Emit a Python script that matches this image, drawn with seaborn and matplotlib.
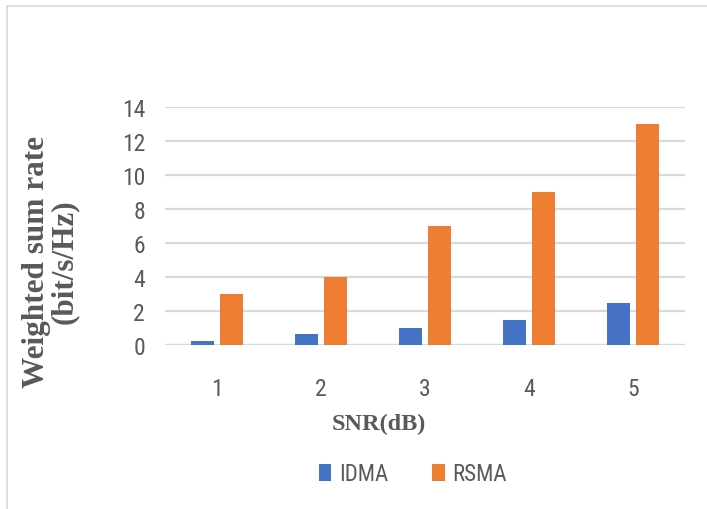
import matplotlib
matplotlib.use("Agg")
import matplotlib.pyplot as plt
from matplotlib import font_manager
from matplotlib.lines import Line2D
import seaborn as sns
import pandas as pd

# Weighted sum rate versus SNR for the two access schemes
snr_db = ["1", "2", "3", "4", "5"]
idma_rate = [0.25, 0.65, 1.0, 1.5, 2.5]
rsma_rate = [3, 4, 7, 9, 13]
schemes = ["IDMA", "RSMA"]
y_ticks = [0, 2, 4, 6, 8, 10, 12, 14]

df = pd.DataFrame({
    "SNR": snr_db * 2,
    "rate": idma_rate + rsma_rate,
    "scheme": [schemes[0]] * len(snr_db) + [schemes[1]] * len(snr_db),
})

# prefer a condensed sans face when one is installed
installed = {f.name for f in font_manager.fontManager.ttflist}
narrow = None
for cand in ["Liberation Sans Narrow", "Roboto Condensed", "Open Sans Condensed",
             "Noto Sans Condensed", "DejaVu Sans Condensed"]:
    if cand in installed:
        narrow = cand
        break

sns.set_theme(style="white")
if narrow is not None:
    plt.rcParams["font.family"] = [narrow, "Liberation Sans", "DejaVu Sans"]
    tick_size, legend_size = 17, 16.5
else:
    plt.rcParams["font.family"] = ["Liberation Sans", "DejaVu Sans"]
    tick_size, legend_size = 15, 15

TEXT = "#595959"
GRID = "#D9D9D9"
colors = ["#4472C4", "#ED7D31"]

fig = plt.figure(figsize=(7.07, 5.10), dpi=100)
fig.patch.set_facecolor("white")
ax = fig.add_axes([165 / 707, 1 - 346 / 510, 520 / 707, (346 - 108.3) / 510])

sns.barplot(data=df, x="SNR", y="rate", hue="scheme", hue_order=schemes,
            palette=colors, saturation=1, width=0.56, gap=0.2, linewidth=0,
            ax=ax, legend=False)

ax.set_ylim(0, 14)
ax.set_yticks(y_ticks)
ax.set_xlim(-0.5, len(snr_db) - 0.5)
ax.yaxis.grid(True, color=GRID, linewidth=1.6)
ax.set_axisbelow(True)
for s in ax.spines.values():
    s.set_visible(False)
ax.axhline(0, color=GRID, linewidth=1.6, zorder=0.5)

ax.tick_params(axis="y", length=0, pad=14.4, labelsize=tick_size, labelcolor=TEXT)
ax.tick_params(axis="x", length=0, pad=23, labelsize=tick_size, labelcolor=TEXT)

ax.set_xlabel("SNR(dB)", fontfamily="Liberation Serif", fontweight="bold",
              fontsize=17.5, color=TEXT)
ax.xaxis.label.set_va("center")
ax.xaxis.set_label_coords((379 - 165) / 520, (346 - 424) / 237.7)

ax.set_ylabel("Weighted sum rate\n(bit/s/Hz)", fontfamily="Liberation Serif",
              fontweight="bold", fontsize=22.5, color=TEXT, linespacing=0.95,
              multialignment="center")
ax.yaxis.label.set_va("center")
ax.yaxis.set_label_coords((50.5 - 165) / 520, (346 - 262) / 237.7)

handles = [plt.Rectangle((0, 0), 1, 1, facecolor=c, edgecolor="none") for c in colors]
fig.legend(handles, schemes, loc="center", bbox_to_anchor=(413 / 707, 1 - 475 / 510),
           ncol=2, frameon=False, fontsize=legend_size, labelcolor=TEXT,
           handlelength=0.55, handleheight=0.75, handletextpad=0.35,
           columnspacing=1.9)

# chart-area frame edges (left and top)
fig.add_artist(Line2D([7 / 707, 7 / 707], [0, 1 - 7 / 510], color=GRID,
                      linewidth=1.2, transform=fig.transFigure))
fig.add_artist(Line2D([7 / 707, 1], [1 - 7 / 510, 1 - 7 / 510], color=GRID,
                      linewidth=1.2, transform=fig.transFigure))

fig.savefig("out.png", dpi=100, facecolor="white")
